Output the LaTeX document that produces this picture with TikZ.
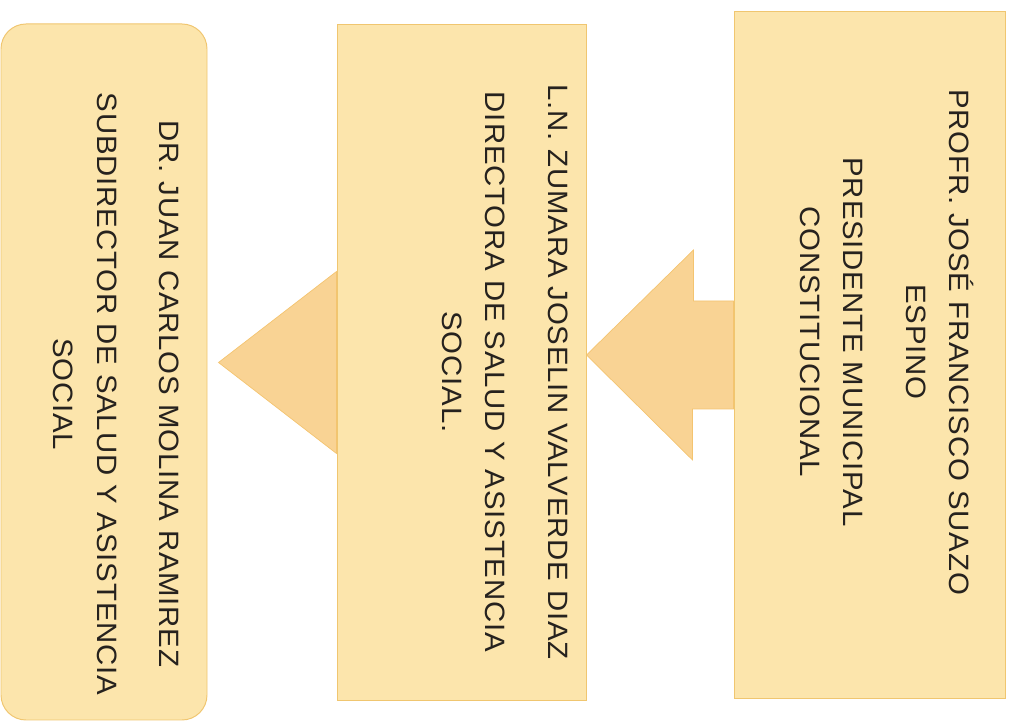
\documentclass[tikz,border=0pt]{standalone}
\usepackage{fontspec}
\setmainfont{Liberation Sans}[FakeStretch=1.05, LetterSpace=3]
\usetikzlibrary{calc,backgrounds}

\definecolor{boxfill}{RGB}{252,229,172}
\definecolor{boxline}{RGB}{240,198,112}
\definecolor{arrowfill}{RGB}{249,211,148}
\definecolor{arrowline}{RGB}{244,196,112}
\definecolor{inkgray}{RGB}{38,34,30}

\begin{document}
\begin{tikzpicture}[
        x=0.025cm, y=0.025cm,
        box/.style={
            draw=boxline, fill=boxfill, line width=0.7pt,
            inner sep=0pt
        },
        headarrow/.style={
            draw=arrowline, fill=arrowfill, line width=0.5pt,
            line join=miter
        },
        every node/.style={
            font=\fontsize{19.9}{30.6}\selectfont
        },
        boxtext/.style={
            rotate=-90, align=center, text=inkgray, inner sep=0pt
        }
    ]
        \useasboundingbox (0,0) rectangle (1011,728);

        % Box 1 (right)
        \node[box, minimum width=271*0.025cm, minimum height=686*0.025cm] (pres) at (869.5,373) {};
        \node[boxtext] (pres text) at (887,386) {PROFR. JOSÉ FRANCISCO SUAZO\\ESPINO\\[14pt]PRESIDENTE MUNICIPAL\\CONSTITUCIONAL};

        % Box 2 (middle)
        \node[box, minimum width=249*0.025cm, minimum height=675*0.025cm] (dir) at (461.5,365.5) {};
        \node[boxtext] (dir text) at (505,356) {L.N. ZUMARA JOSELIN VALVERDE DIAZ\\[14pt]DIRECTORA DE SALUD Y ASISTENCIA\\SOCIAL.};

        % Box 3 (left)
        \node[box, rounded corners=0.625cm, minimum width=206*0.025cm, minimum height=696*0.025cm] (sub) at (104,356) {};
        \node[boxtext] (sub text) at (116.5,334) {DR. JUAN CARLOS MOLINA RAMIREZ\\[14pt]SUBDIRECTOR DE SALUD Y ASISTENCIA\\SOCIAL};

        % Arrow 1
        \draw[headarrow] (dir.east |- pres.west) -- ++(107,105) -- ++(0,-51)
            -- ($(pres.west)+(0,54)$) -- ($(pres.west)+(0,-54)$)
            -- ++(-41,0) -- ++(0,-51) -- cycle;

        % Arrow 2
        \begin{scope}[on background layer]
            \draw[headarrow] (dir.west) -- ++(0,91) -- ++(-118,-91) -- ++(118,-91) -- cycle;
        \end{scope}

    \end{tikzpicture}
\end{document}
